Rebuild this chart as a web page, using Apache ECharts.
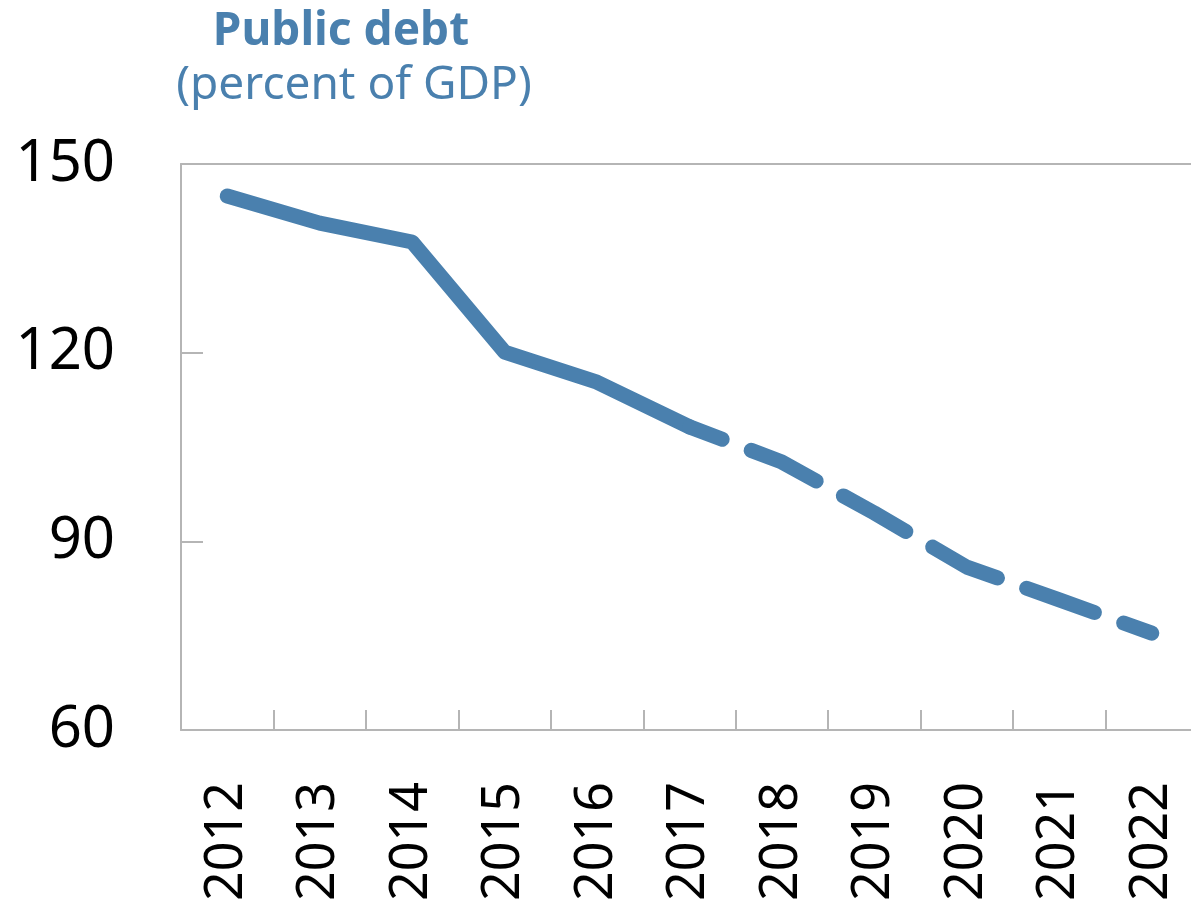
<!DOCTYPE html>
<html>
<head>
<meta charset="utf-8">
<script src="https://cdn.jsdelivr.net/npm/echarts@6/dist/echarts.min.js"></script>
<style>
  html, body { margin: 0; padding: 0; background: #fff; }
  #chart { width: 1191px; height: 902px; }
</style>
</head>
<body>
<div id="chart"></div>
<script>
// 公共债务 (% of GDP), 2017年以后为预测
const years = ['2012', '2013', '2014', '2015', '2016', '2017', '2018', '2019', '2020', '2021', '2022'];
const actual = [144.9, 140.6, 137.6, 120.1, 115.3, 108.2, null, null, null, null, null];
const projected = [null, null, null, null, null, 108.2, 102.6, 94.5, 85.9, 80.7, 75.4];
const yTicks = [60, 90, 120, 150];

const BLUE = '#4a80ae';
const AXIS = '#b5b5b5';
const FONT = 'Noto Sans';

const chart = echarts.init(document.getElementById('chart'));

chart.setOption({
  backgroundColor: '#fff',
  animation: false,
  textStyle: { fontFamily: FONT },
  title: [
    {
      text: 'Public debt', left: 336, top: 4, textAlign: 'center',
      textStyle: { color: BLUE, fontSize: 46, fontWeight: 'bold', fontFamily: FONT }
    },
    {
      text: '(percent of GDP)', left: 349, top: 58, textAlign: 'center',
      textStyle: { color: BLUE, fontSize: 46, fontWeight: 'normal', fontFamily: FONT }
    }
  ],
  grid: { left: 181, right: -7, top: 164, bottom: 172, containLabel: false, outerBoundsMode: 'none' },
  xAxis: [
    {
      type: 'category', data: years, boundaryGap: true,
      axisLine: { lineStyle: { color: AXIS, width: 2 } },
      axisTick: { show: true, inside: true, length: 20, lineStyle: { color: AXIS, width: 2 } },
      axisLabel: { rotate: 90, margin: 52, color: '#000', fontSize: 52, fontFamily: FONT }
    },
    {
      // 顶部边框线
      type: 'category', data: years, position: 'top',
      axisLine: { lineStyle: { color: AXIS, width: 2 } },
      axisTick: { show: false }, axisLabel: { show: false }
    }
  ],
  yAxis: {
    type: 'value', min: yTicks[0], max: yTicks[yTicks.length - 1], interval: 30,
    axisLine: { show: true, lineStyle: { color: AXIS, width: 2 } },
    axisTick: { show: true, inside: true, length: 22, lineStyle: { color: AXIS, width: 2 } },
    splitLine: { show: false },
    axisLabel: { color: '#000', fontSize: 58, margin: 66, fontFamily: FONT }
  },
  series: [
    {
      name: 'actual', type: 'line', data: actual, showSymbol: false,
      lineStyle: { color: BLUE, width: 15, cap: 'round', join: 'round' }
    },
    {
      name: 'projected', type: 'line', data: projected, showSymbol: false,
      lineStyle: { color: BLUE, width: 15, cap: 'round', join: 'round', type: [72, 31], dashOffset: 37 }
    }
  ]
});
</script>
</body>
</html>
